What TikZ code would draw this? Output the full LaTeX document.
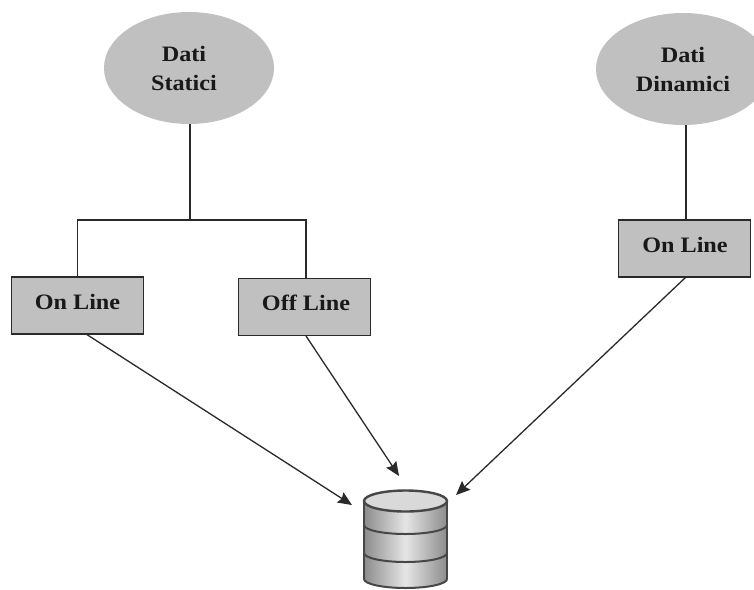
\documentclass[tikz,border=0pt]{standalone}
\usepackage{fontspec}
\newfontfamily\lblfont[FakeStretch=1.1]{Liberation Serif}
\usetikzlibrary{shapes.geometric,arrows.meta}
\definecolor{fillgray}{HTML}{C0C0C0}
\definecolor{linegray}{HTML}{2A2A2A}
\tikzset{
  x=1pt,y=-1pt,
  lbl/.style={font=\lblfont\fontsize{22}{29}\selectfont\bfseries,text=black!90,align=center,inner sep=0pt},
  datum/.style={ellipse,fill=fillgray,inner sep=0pt},
  boxnode/.style={rectangle,draw=linegray,line width=1.4pt,fill=fillgray,minimum width=132pt,minimum height=57pt,inner sep=0pt},
  conn/.style={draw=linegray,line width=1.3pt},
  arr/.style={conn,-{Stealth[length=14pt,width=12pt,inset=2pt]}},
  dbline/.style={draw=black!72,line width=2pt}
}
\begin{document}
\begin{tikzpicture}
\useasboundingbox (0,0) rectangle (754,589);
\clip (0,0) rectangle (754,589);
\fill[white] (0,0) rectangle (754,589);

\node[datum,minimum width=170pt,minimum height=112pt] (ds) at (189,68) {};
\node[datum,minimum width=174pt,minimum height=112pt] (dd) at (683,69) {};
\node[lbl] (dst) at (184,68) {Dati\\Statici};
\node[lbl] (ddt) at (683,69) {Dati\\Dinamici};

\node[boxnode] (on1) at (77.5,305.5) {};
\node[boxnode] (off) at (304.5,307) {};
\node[boxnode] (on2) at (684.5,248.5) {};
\node[lbl] at (77.5,302) {On Line};
\node[lbl] at (306,303) {Off Line};
\node[lbl] at (685,245) {On Line};

\coordinate (branch) at (190,220);
\coordinate (offtop) at (306,278);
\draw[conn] (190,124) -- (branch);
\draw[conn] (on1.north) -- (77.5,220) -- (306,220) -- (offtop);
\draw[conn] (686,125) -- (686,220);

% database
\coordinate (dbA) at (352,505);
\coordinate (dbB) at (399,476);
\coordinate (dbC) at (456,495);
\draw[arr] (86,334) -- (dbA);
\draw[arr] (306,336) -- (dbB);
\draw[arr] (686,277) -- (dbC);

\path[left color=black!45,right color=black!45,middle color=black!10]
  (364,501) -- (364,579) arc[start angle=180,end angle=0,x radius=41.5,y radius=9] -- (447,501) -- cycle;
\draw[dbline] (364,501) -- (364,579);
\draw[dbline] (447,501) -- (447,579);
\draw[dbline] (364,525) arc[start angle=180,end angle=0,x radius=41.5,y radius=9];
\draw[dbline] (364,553) arc[start angle=180,end angle=0,x radius=41.5,y radius=9];
\draw[dbline] (364,579) arc[start angle=180,end angle=0,x radius=41.5,y radius=9];
\path[fill=black!15,draw=black!72,line width=2.4pt] (405.5,501) ellipse[x radius=41.5,y radius=10.5];
\end{tikzpicture}
\end{document}
